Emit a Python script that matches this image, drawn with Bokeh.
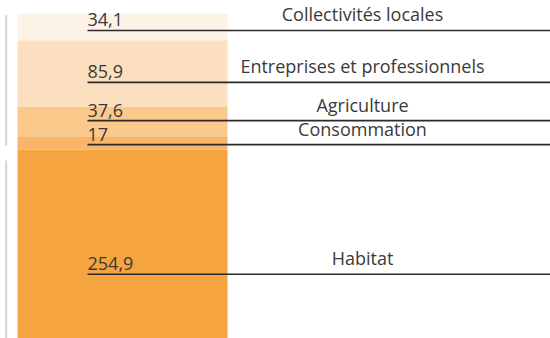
from bokeh.plotting import figure
from bokeh.models import Range1d, ColumnDataSource
from bokeh.core.properties import value
from bokeh.embed import file_html
from bokeh.resources import INLINE

# data (bottom to top)
categories = ["Habitat", "Consommation", "Agriculture", "Entreprises et professionnels", "Collectivités locales"]
values = [254.9, 17, 37.6, 85.9, 34.1]
colors = ["#f5a440", "#f9b66b", "#fbc98b", "#fcdfbf", "#fdf2e6"]

W, H = 550, 338
total = sum(values)
px_per_unit = 0.777
y_end = total + 13.3 / px_per_unit
y_start = y_end - H / px_per_unit

bottoms, tops = [], []
acc = 0.0
for v in values:
    bottoms.append(acc)
    acc += v
    tops.append(acc)

p = figure(width=W, height=H, output_backend="svg", toolbar_location=None,
           x_range=Range1d(0, W), y_range=Range1d(y_start, y_end),
           min_border=0, min_border_left=0, min_border_right=0,
           min_border_top=0, min_border_bottom=0)
p.axis.visible = False
p.grid.visible = False
p.outline_line_color = None
p.background_fill_color = "white"

src = ColumnDataSource(dict(cat=categories, val=values, bottom=bottoms, top=tops, color=colors))
p.vbar(x=122, width=210, bottom="bottom", top="top", fill_color="color", line_color=None, source=src)

# label anchors inside each segment, pushed apart to avoid collisions
min_gap = 24 / px_per_unit
label_y = []
for b, v in zip(bottoms, values):
    y = b + 0.37 * v
    if label_y and y - label_y[-1] < min_gap:
        y = label_y[-1] + min_gap
    label_y.append(y)
# if pushing moved a label, let the lower one share the adjustment
val_txt = [f"{v:g}".replace(".", ",") for v in values]
lsrc = ColumnDataSource(dict(y=label_y, vt=val_txt, cat=categories))
p.segment(x0=87, x1=W, y0="y", y1="y", line_color="#2b2b2b", line_width=1.6, source=lsrc)
p.text(x=87, y="y", text="vt", text_font=value("Open Sans"), text_font_size="18px",
       text_color="#3a3a3a", text_align="left", text_baseline="bottom", y_offset=-4, source=lsrc)
p.text(x=362, y="y", text="cat", text_font=value("Open Sans"), text_font_size="18px",
       text_color="#3a3a3a", text_align="center", text_baseline="bottom", y_offset=-4, source=lsrc)

# group brackets on the left
hab_top = tops[0]
p.segment(x0=[5.7, 5.7], x1=[5.7, 5.7],
          y0=[total - 1 / px_per_unit, hab_top - 11 / px_per_unit],
          y1=[hab_top + 4 / px_per_unit, y_start],
          line_color="#d4d4d4", line_width=2)

open("out.html", "w").write(file_html(p, INLINE))
